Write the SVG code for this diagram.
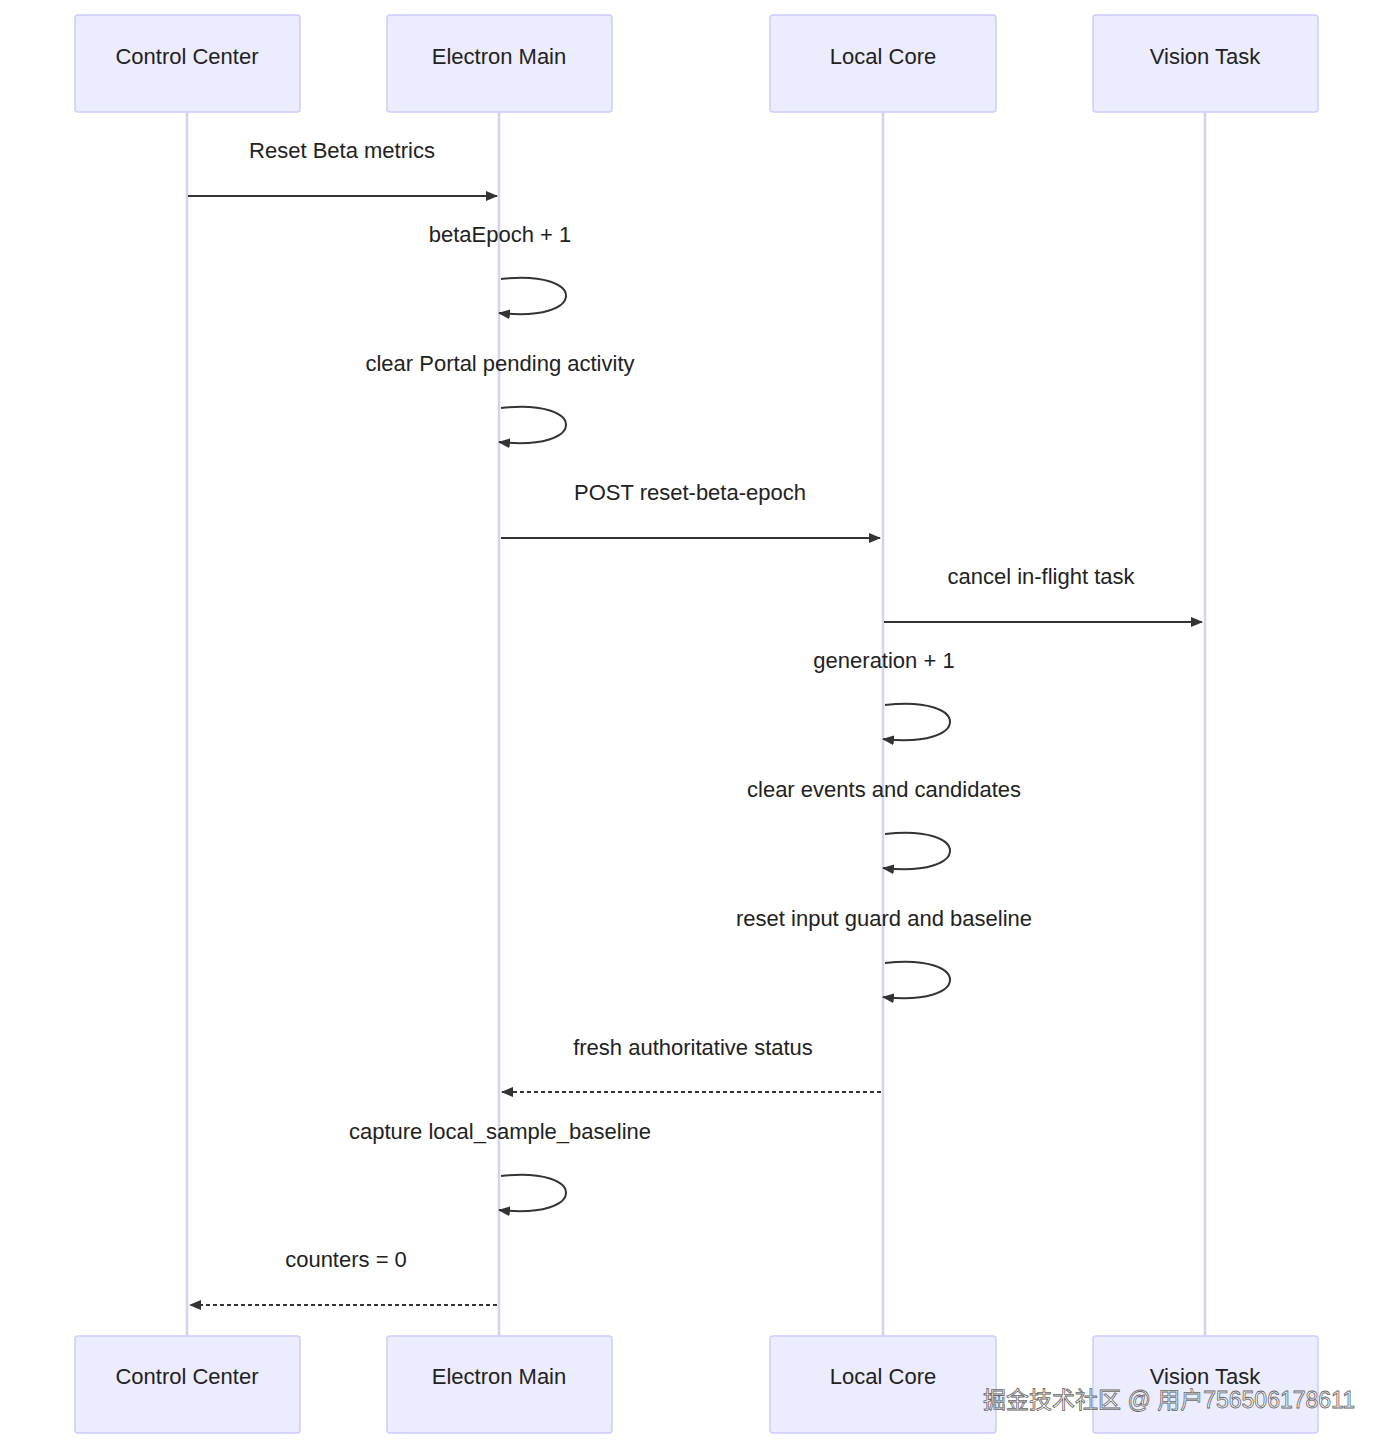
<svg xmlns="http://www.w3.org/2000/svg" width="1393" height="1450" viewBox="0 0 1393 1450">
<style>
.actor{fill:#ECECFF;stroke:#CCCCFF;stroke-width:1.5}
.life{stroke:#D6D0F2;stroke-width:2.5}
.at{font-family:"Liberation Sans",Arial,sans-serif;font-size:22px;fill:#222;text-anchor:middle}
.mt{font-family:"Liberation Sans",Arial,sans-serif;font-size:22px;fill:#222;text-anchor:middle}
.msg{stroke:#333;stroke-width:2;fill:none}
.dash{stroke-dasharray:4,3}
</style>
<defs>
<marker id="ah" viewBox="0 0 12 10" refX="11" refY="5" markerWidth="12" markerHeight="10" markerUnits="userSpaceOnUse" orient="auto"><path d="M0,0 L12,5 L0,10 z" fill="#333"/></marker>
</defs>
<rect width="1393" height="1450" fill="#fff"/>
<g id="lifelines">
<line class="life" x1="187" y1="112" x2="187" y2="1336"/>
<line class="life" x1="499" y1="112" x2="499" y2="1336"/>
<line class="life" x1="883" y1="112" x2="883" y2="1336"/>
<line class="life" x1="1205" y1="112" x2="1205" y2="1336"/>
</g>
<g id="actor-cc"><rect class="actor" x="75" y="15" width="225" height="97" rx="3"/><text class="at" x="187" y="64">Control Center</text></g>
<g id="actor-em"><rect class="actor" x="387" y="15" width="225" height="97" rx="3"/><text class="at" x="499" y="64">Electron Main</text></g>
<g id="actor-lc"><rect class="actor" x="770" y="15" width="226" height="97" rx="3"/><text class="at" x="883" y="64">Local Core</text></g>
<g id="actor-vt"><rect class="actor" x="1093" y="15" width="225" height="97" rx="3"/><text class="at" x="1205" y="64">Vision Task</text></g>
<g id="actor-cc-b"><rect class="actor" x="75" y="1336" width="225" height="97" rx="3"/><text class="at" x="187" y="1384">Control Center</text></g>
<g id="actor-em-b"><rect class="actor" x="387" y="1336" width="225" height="97" rx="3"/><text class="at" x="499" y="1384">Electron Main</text></g>
<g id="actor-lc-b"><rect class="actor" x="770" y="1336" width="226" height="97" rx="3"/><text class="at" x="883" y="1384">Local Core</text></g>
<g id="actor-vt-b"><rect class="actor" x="1093" y="1336" width="225" height="97" rx="3"/><text class="at" x="1205" y="1384">Vision Task</text></g>
<g id="connectors">
<line class="msg" x1="188" y1="196" x2="497" y2="196" marker-end="url(#ah)"/>
<path class="msg" d="M501,279 C588,269 588,323 499,313" marker-end="url(#ah)"/>
<path class="msg" d="M501,408 C588,398 588,452 499,442" marker-end="url(#ah)"/>
<line class="msg" x1="501" y1="538" x2="880" y2="538" marker-end="url(#ah)"/>
<line class="msg" x1="884" y1="622" x2="1202" y2="622" marker-end="url(#ah)"/>
<path class="msg" d="M885,705 C972,695 972,749 883,739" marker-end="url(#ah)"/>
<path class="msg" d="M885,834 C972,824 972,878 883,868" marker-end="url(#ah)"/>
<path class="msg" d="M885,963 C972,953 972,1007 883,997" marker-end="url(#ah)"/>
<line class="msg dash" x1="881" y1="1092" x2="502" y2="1092" marker-end="url(#ah)"/>
<path class="msg" d="M501,1176 C588,1166 588,1220 499,1210" marker-end="url(#ah)"/>
<line class="msg dash" x1="497" y1="1305" x2="190" y2="1305" marker-end="url(#ah)"/>
</g>
<g id="labels">
<text class="mt" x="342" y="158">Reset Beta metrics</text>
<text class="mt" x="500" y="242">betaEpoch + 1</text>
<text class="mt" x="500" y="371">clear Portal pending activity</text>
<text class="mt" x="690" y="500">POST reset-beta-epoch</text>
<text class="mt" x="1041" y="584">cancel in-flight task</text>
<text class="mt" x="884" y="668">generation + 1</text>
<text class="mt" x="884" y="797">clear events and candidates</text>
<text class="mt" x="884" y="926">reset input guard and baseline</text>
<text class="mt" x="693" y="1055">fresh authoritative status</text>
<text class="mt" x="500" y="1139">capture local_sample_baseline</text>
<text class="mt" x="346" y="1267">counters = 0</text>
</g>
<text x="1355" y="1408" font-family="'Liberation Sans','Noto Sans CJK SC',sans-serif" font-size="23" fill="#fff" stroke="#666" stroke-width="0.8" text-anchor="end">掘金技术社区 @ 用户756506178611</text>
</svg>
